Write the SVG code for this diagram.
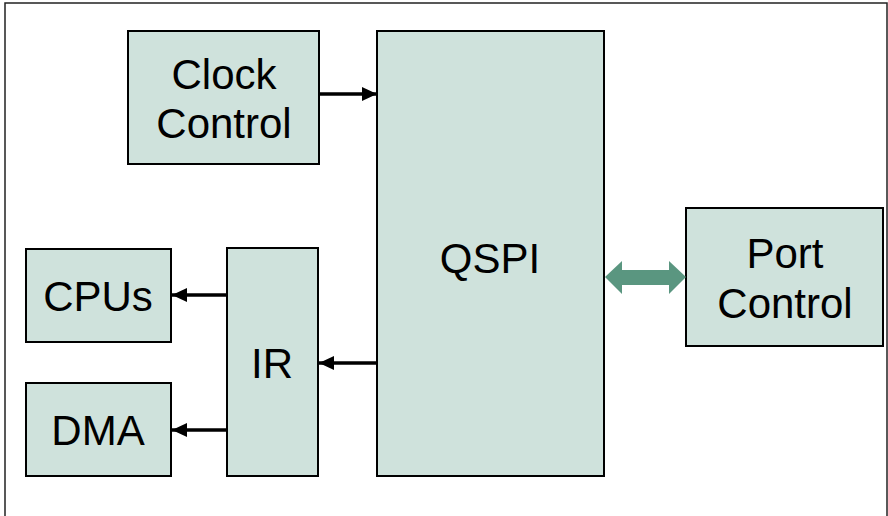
<svg xmlns="http://www.w3.org/2000/svg" width="888" height="516" viewBox="0 0 888 516">
<style>
.box{fill:#cfe2dc;stroke:#000;stroke-width:2}
.t{font-family:"Liberation Sans",Arial,sans-serif;font-size:42px;fill:#000;text-anchor:middle}
.c{stroke:#000;stroke-width:3.5;fill:none;marker-end:url(#ah)}
</style>
<defs>
<marker id="ah" markerUnits="userSpaceOnUse" markerWidth="16" markerHeight="14" refX="15" refY="7" orient="auto">
<path d="M0,0 L15,7 L0,14 Z" fill="#000"/>
</marker>
</defs>
<rect x="5" y="3" width="882" height="520" fill="#fff" stroke="#222" stroke-width="1.5"/>
<g id="clock"><rect class="box" x="128" y="31" width="191" height="133"/><text class="t" x="224" y="89">Clock</text><text class="t" x="224" y="138">Control</text></g>
<g id="qspi"><rect class="box" x="377" y="31" width="227" height="445"/><text class="t" x="490" y="273">QSPI</text></g>
<g id="port"><rect class="box" x="686" y="208" width="197" height="138"/><text class="t" x="785" y="268">Port</text><text class="t" x="785" y="318">Control</text></g>
<g id="ir"><rect class="box" x="227" y="248" width="91" height="228"/><text class="t" x="272" y="378">IR</text></g>
<g id="cpus"><rect class="box" x="26" y="249" width="145" height="93"/><text class="t" x="98" y="311">CPUs</text></g>
<g id="dma"><rect class="box" x="26" y="383" width="145" height="93"/><text class="t" x="98" y="445">DMA</text></g>
<g id="connectors">
<line class="c" x1="319" y1="94" x2="377" y2="94"/>
<line class="c" x1="377" y1="363" x2="319" y2="363"/>
<line class="c" x1="227" y1="295" x2="172" y2="295"/>
<line class="c" x1="227" y1="430" x2="172" y2="430"/>
<path d="M605,277 L622,261 L622,270 L669,270 L669,261 L686,277 L669,294 L669,285 L622,285 L622,294 Z" fill="#5a9680"/>
</g>
</svg>
